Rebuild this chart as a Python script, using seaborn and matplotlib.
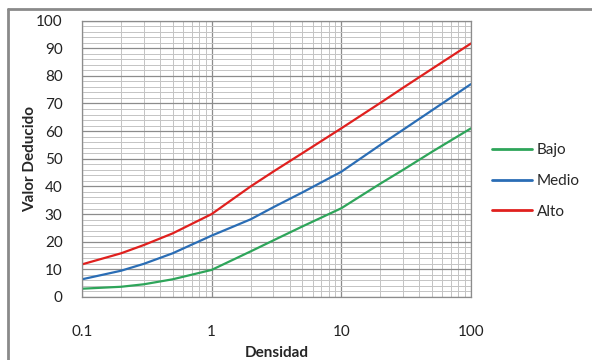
import matplotlib
matplotlib.use("Agg")
import matplotlib.pyplot as plt
from matplotlib.lines import Line2D
from matplotlib.ticker import FixedLocator, LogLocator, NullFormatter, MultipleLocator
import seaborn as sb
import pandas as pd

# values
densidad = [0.1, 0.2, 0.3, 0.5, 1, 2, 3, 5, 10, 20, 30, 50, 100]
bajo = [3.0, 3.7, 4.6, 6.4, 9.8, 16.5, 20.5, 25.5, 32.1, 41.0, 46.0, 52.5, 61.0]
medio = [6.4, 9.5, 12.0, 15.8, 22.2, 28.1, 32.5, 37.8, 45.3, 55.0, 60.5, 67.5, 77.0]
alto = [11.8, 15.8, 18.8, 23.0, 30.0, 40.0, 45.4, 52.0, 61.0, 70.2, 75.7, 82.5, 91.7]

series = ["Bajo", "Medio", "Alto"]
colors = ["#2ea55a", "#2a6db5", "#e0201e"]
x_ticks = [0.1, 1, 10, 100]
x_labels = ["0.1", "1", "10", "100"]


def main():
    df = pd.DataFrame({"Densidad": densidad, "Bajo": bajo,
                       "Medio": medio, "Alto": alto})
    long = df.melt(id_vars=["Densidad"], var_name="Serie",
                   value_name="Valor Deducido")

    sb.set_style("white")
    plt.rcParams["font.family"] = ["Lato", "DejaVu Sans"]

    fig = plt.figure(figsize=(5.92, 3.6), dpi=100)
    ax = fig.add_axes([0.1385, 0.175, 0.657, 0.768])

    sb.lineplot(data=long, x="Densidad", y="Valor Deducido", hue="Serie",
                hue_order=series, palette=colors, linewidth=1.6, ax=ax)

    ax.set_xscale("log")
    ax.set_xlim(0.1, 100)
    ax.set_ylim(0, 100)
    ax.xaxis.set_major_locator(FixedLocator(x_ticks))
    ax.set_xticklabels(x_labels)
    ax.xaxis.set_minor_locator(LogLocator(base=10, subs=range(2, 10)))
    ax.xaxis.set_minor_formatter(NullFormatter())
    ax.yaxis.set_major_locator(MultipleLocator(10))
    ax.yaxis.set_minor_locator(MultipleLocator(2))

    ax.grid(which="major", color="#8c8c8c", linewidth=0.9)
    ax.grid(which="minor", color="#c4c4c4", linewidth=0.7)
    ax.set_axisbelow(True)
    for s in ax.spines.values():
        s.set_color("#8c8c8c")
        s.set_linewidth(0.9)

    ax.tick_params(axis="x", which="major", length=6, color="#8c8c8c",
                   pad=14, labelsize=11, labelcolor="#222222")
    ax.tick_params(axis="x", which="minor", length=0)
    ax.tick_params(axis="y", which="both", length=0, pad=14,
                   labelsize=11, labelcolor="#222222")

    ax.set_xlabel("Densidad", fontsize=11, fontweight="bold", labelpad=5)
    ax.set_ylabel("Valor Deducido", fontsize=11, fontweight="bold", labelpad=-1)

    leg = ax.legend(loc="center left", bbox_to_anchor=(1.02, 0.42),
                    frameon=False, fontsize=11, handlelength=2.6,
                    handletextpad=0.3, labelspacing=1.1)
    for line in leg.get_lines():
        line.set_linewidth(2)

    # chart frame: top and left edges only
    fig.add_artist(Line2D([8 / 592, 1], [1 - 9 / 360, 1 - 9 / 360],
                          transform=fig.transFigure, color="#8a8a8a", lw=2))
    fig.add_artist(Line2D([8 / 592, 8 / 592], [0, 1 - 9 / 360],
                          transform=fig.transFigure, color="#8a8a8a", lw=2))

    fig.savefig("out.png", dpi=100)


if __name__ == "__main__":
    main()
